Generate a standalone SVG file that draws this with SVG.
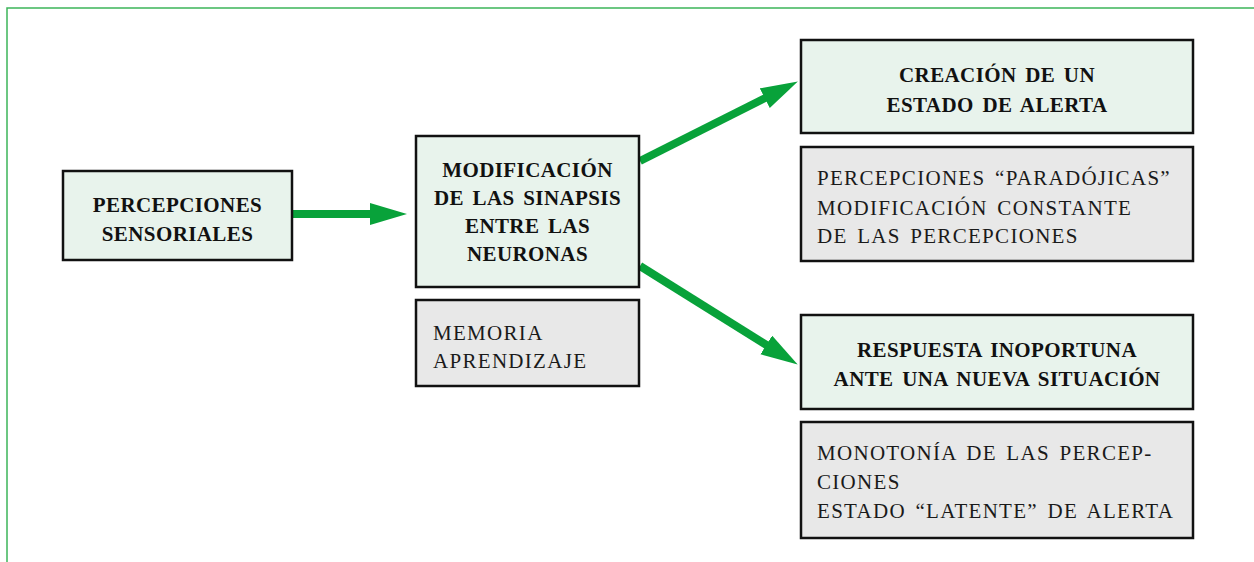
<svg xmlns="http://www.w3.org/2000/svg" width="1254" height="562" viewBox="0 0 1254 562">
<style>
.frame{fill:none;stroke:#3cb55a;stroke-width:1.5}
.main{fill:#e8f3ec;stroke:#111;stroke-width:2.5}
.note{fill:#e8e8e8;stroke:#111;stroke-width:2.5}
.h{font-family:"Liberation Serif","Times New Roman",serif;font-weight:bold;font-size:21px;fill:#111;text-anchor:middle;letter-spacing:0.4px;word-spacing:3px}
.t{font-family:"Liberation Serif","Times New Roman",serif;font-size:21px;fill:#1a1a1a;letter-spacing:1.3px;word-spacing:3px}
.arr{stroke:#08a23a;stroke-width:8;fill:none;marker-end:url(#ah)}
</style>
<defs>
<marker id="ah" markerUnits="userSpaceOnUse" markerWidth="40" markerHeight="24" refX="2" refY="11" orient="auto">
<path d="M0,0 L37,11 L0,22 z" fill="#08a23a"/>
</marker>
</defs>
<rect width="1254" height="562" fill="#fff"/>
<path class="frame" d="M7,562 V8 H1254"/>
<g id="connectors">
<line class="arr" x1="292" y1="214" x2="372" y2="214"/>
<line class="arr" x1="640" y1="161" x2="766.6" y2="97.3"/>
<line class="arr" x1="640" y1="266" x2="768" y2="346"/>
</g>
<g id="n-percepciones">
<rect class="main" x="63" y="171" width="229" height="89"/>
<text class="h" x="177.5" y="212">PERCEPCIONES</text>
<text class="h" x="177.5" y="241">SENSORIALES</text>
</g>
<g id="n-modificacion">
<rect class="main" x="416" y="136" width="223" height="151"/>
<text class="h" x="527.5" y="177">MODIFICACIÓN</text>
<text class="h" x="527.5" y="205">DE LAS SINAPSIS</text>
<text class="h" x="527.5" y="233">ENTRE LAS</text>
<text class="h" x="527.5" y="261">NEURONAS</text>
</g>
<g id="n-memoria">
<rect class="note" x="416" y="300" width="223" height="86"/>
<text class="t" x="433" y="340">MEMORIA</text>
<text class="t" x="433" y="368">APRENDIZAJE</text>
</g>
<g id="n-creacion">
<rect class="main" x="801" y="40" width="392" height="93"/>
<text class="h" x="997" y="82">CREACIÓN DE UN</text>
<text class="h" x="997" y="112">ESTADO DE ALERTA</text>
</g>
<g id="n-paradojicas">
<rect class="note" x="801" y="147" width="392" height="114"/>
<text class="t" x="817" y="185">PERCEPCIONES “PARADÓJICAS”</text>
<text class="t" x="817" y="215">MODIFICACIÓN CONSTANTE</text>
<text class="t" x="817" y="243">DE LAS PERCEPCIONES</text>
</g>
<g id="n-respuesta">
<rect class="main" x="801" y="315" width="392" height="94"/>
<text class="h" x="997" y="357">RESPUESTA INOPORTUNA</text>
<text class="h" x="997" y="386">ANTE UNA NUEVA SITUACIÓN</text>
</g>
<g id="n-monotonia">
<rect class="note" x="801" y="422" width="392" height="116"/>
<text class="t" x="817" y="460">MONOTONÍA DE LAS PERCEP-</text>
<text class="t" x="817" y="489">CIONES</text>
<text class="t" x="817" y="518">ESTADO “LATENTE” DE ALERTA</text>
</g>
</svg>
